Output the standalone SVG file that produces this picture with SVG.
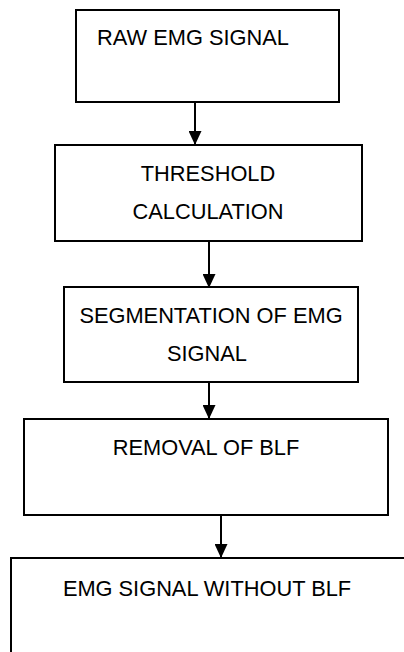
<svg xmlns="http://www.w3.org/2000/svg" width="404" height="652" viewBox="0 0 404 652">
  <style>
    .box { fill: #ffffff; stroke: #000000; stroke-width: 2; }
    .label { font-family: "Liberation Sans", Arial, sans-serif; font-size: 21.8px; fill: #000000; text-anchor: middle; }
    .link { stroke: #000000; stroke-width: 2; fill: none; marker-end: url(#head); }
  </style>
  <defs>
    <marker id="head" viewBox="0 0 14 13" refX="14" refY="6.5" markerWidth="14" markerHeight="13" markerUnits="userSpaceOnUse" orient="auto">
      <path d="M0,0 L14,6.5 L0,13 Z" fill="#000000"/>
    </marker>
  </defs>
  <rect width="404" height="652" fill="#ffffff"/>

  <g id="raw-emg-signal">
    <rect class="box" x="76" y="10" width="263" height="92"/>
    <text class="label" x="193" y="45">RAW EMG SIGNAL</text>
  </g>

  <g id="threshold-calculation">
    <rect class="box" x="55" y="145" width="307" height="96"/>
    <text class="label" x="208" y="181">THRESHOLD</text>
    <text class="label" x="208" y="219">CALCULATION</text>
  </g>

  <g id="segmentation">
    <rect class="box" x="64" y="287" width="294" height="95"/>
    <text class="label" x="211" y="323">SEGMENTATION OF EMG</text>
    <text class="label" x="207" y="361">SIGNAL</text>
  </g>

  <g id="removal-of-blf">
    <rect class="box" x="24" y="419" width="364" height="96"/>
    <text class="label" x="206" y="455">REMOVAL OF BLF</text>
  </g>

  <g id="emg-without-blf">
    <rect class="box" x="11" y="558" width="400" height="110"/>
    <text class="label" x="207" y="596">EMG SIGNAL WITHOUT BLF</text>
  </g>

  <g id="connectors">
    <line class="link" x1="195" y1="102" x2="195" y2="145"/>
    <line class="link" x1="209" y1="241" x2="209" y2="288"/>
    <line class="link" x1="209" y1="382" x2="209" y2="419"/>
    <line class="link" x1="221" y1="515" x2="221" y2="558"/>
  </g>
</svg>
